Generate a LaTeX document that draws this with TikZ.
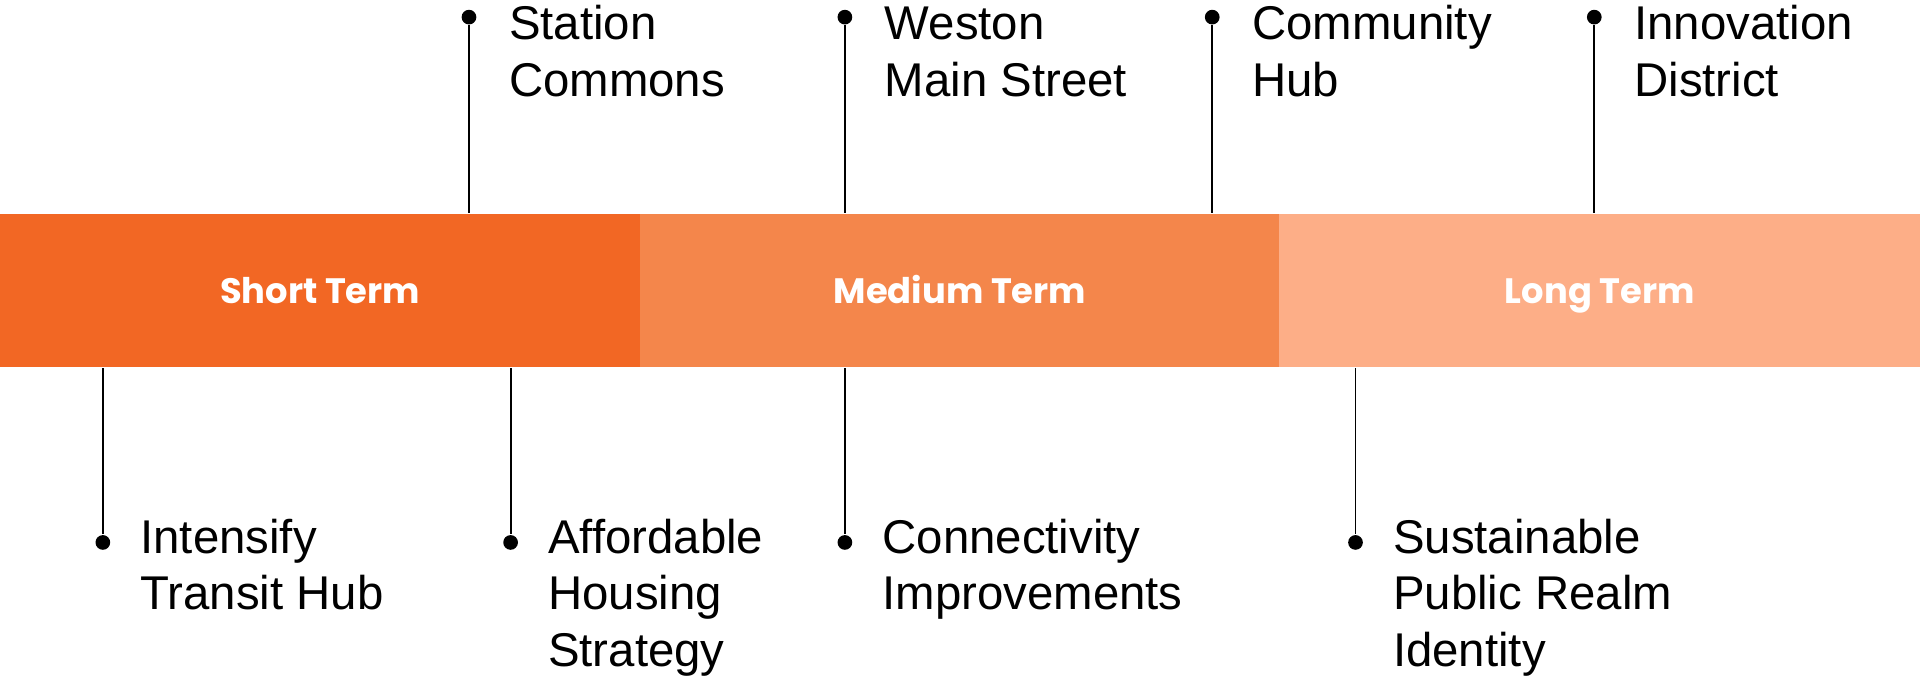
\documentclass[tikz,border=0pt]{standalone}
\usepackage{fontspec}
\setmainfont{Liberation Sans}
\newfontfamily\termfont{Poppins}
\usetikzlibrary{positioning}
\definecolor{shortc}{HTML}{F26724}
\definecolor{medc}{HTML}{F4864B}
\definecolor{longc}{HTML}{FDAE87}
\begin{document}
\begin{tikzpicture}[
            x=0.01cm, y=0.01cm,
            term/.style={rectangle, inner sep=0, minimum width=5.23cm, minimum height=1.25cm,
                         text height=6pt, text depth=0pt, text=white,
                         font=\termfont\bfseries\fontsize{8.2}{10}\selectfont},
            pnt/.style={circle, fill, inner sep=0, minimum size=0.12cm},
            lbl/.style={anchor=base west, inner sep=0, align=left,
                        font=\fontsize{11}{13.1}\selectfont},
            stem/.style={line width=0.45pt}
        ]
           \useasboundingbox (0,0) rectangle (1568,-555);

           \node[term, fill=shortc] (short) at (261.5,-237.5) {Short Term};
           \node[term, fill=medc] (medium) at (784,-237.5) {Medium Term};
           \node[term, fill=longc] (long) at (1306.5,-237.5) {Long Term};

           % above the band (base is the last line)
           \node[pnt] (station) at (383,-14) {};
           \node[pnt] (weston) at (690,-14) {};
           \node[pnt] (hub) at (990,-14) {};
           \node[pnt] (innov) at (1302,-14) {};

           \node[lbl] (stationtxt) at (415,-78.5) {Station\\Commons};
           \node[lbl] (westontxt) at (722,-78.5) {Weston\\Main Street};
           \node[lbl] (hubtxt) at (1022,-78.5) {Community\\Hub};
           \node[lbl] (innovtxt) at (1334,-78.5) {Innovation\\District};

           \draw[stem] (station) -- (station |- short.north);
           \draw[stem] (weston) -- (weston |- medium.north);
           \draw[stem] (hub) -- (hub |- medium.north);
           \draw[stem] (innov) -- (innov |- long.north);

           % below the band
           \node[pnt] (transit) at (84,-443) {};
           \node[pnt] (housing) at (417,-443) {};
           \node[pnt] (connect) at (690,-443) {};
           \node[pnt] (realm) at (1107,-443) {};

           \node[lbl] (transittxt) at (114,-498) {Intensify\\Transit Hub};
           \node[lbl] (housingtxt) at (447,-544) {Affordable\\Housing\\Strategy};
           \node[lbl] (connecttxt) at (720,-498) {Connectivity\\Improvements};
           \node[lbl] (realmtxt) at (1137,-544) {Sustainable\\Public Realm\\Identity};

           \draw[stem] (transit) -- (transit |- short.south);
           \draw[stem] (housing) -- (housing |- short.south);
           \draw[stem] (connect) -- (connect |- medium.south);
           \draw[stem] (realm) -- (realm |- long.south);
        \end{tikzpicture}
\end{document}
